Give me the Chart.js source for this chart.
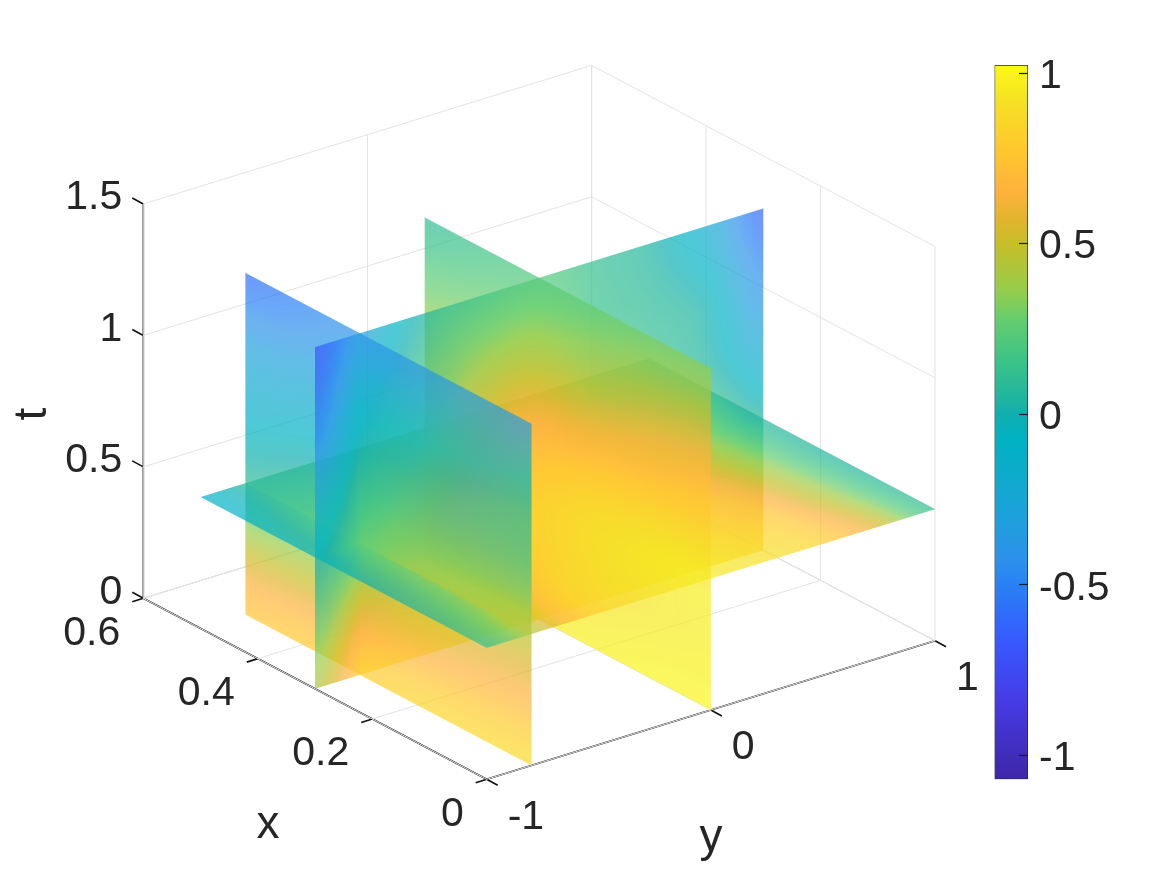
<!DOCTYPE html>
<html>
<head>
<title>Slices of u(x, y, t)</title>
<script src="https://cdn.jsdelivr.net/npm/chart.js"></script>
<style>
    body { margin: 0; background: #fff; }
    #wrap { position: relative; width: 1167px; height: 875px; overflow: hidden; }
    #mainChart { position: absolute; left: 0; top: 0; }
    #barChart { position: absolute; left: 994px; top: 0; }
</style>
</head>
<body>
<div id="wrap">
    <canvas id="mainChart" width="1167" height="875"></canvas>
    <canvas id="barChart" width="173" height="875"></canvas>
</div>
<script>
// axis ticks
const xTicks = [0, 0.2, 0.4, 0.6];
const yTicks = [-1, 0, 1];
const tTicks = [0, 0.5, 1, 1.5];
const barTicks = [-1, -0.5, 0, 0.5, 1];
const barMin = -1.071;
const barMax = 1.022;

// grid levels the slice values were read at
const xLevels = [0, 0.1, 0.2, 0.3, 0.4, 0.5];
const yLevels = [-1, -0.75, -0.5, -0.25, 0, 0.25, 0.5, 0.75, 1];
const tLevels = [0, 0.25, 0.5, 0.75, 1, 1.3];

// slice y = -0.8, rows t, columns x
const sliceYm08 = [
    [0.88, 0.86, 0.85, 0.80, 0.78, 0.75],
    [0.66, 0.64, 0.60, 0.55, 0.50, 0.48],
    [0.45, 0.42, 0.38, 0.27, 0.18, 0.10],
    [0.15, 0.14, 0.12, 0.06, -0.04, -0.10],
    [0.00, -0.04, -0.08, -0.11, -0.25, -0.30],
    [-0.35, -0.36, -0.38, -0.40, -0.50, -0.58]
];
// slice y = 0, rows t, columns x
const sliceY0 = [
    [1.00, 1.00, 0.98, 0.97, 0.93, 0.90],
    [0.97, 0.95, 0.92, 0.88, 0.82, 0.78],
    [0.95, 0.93, 0.88, 0.80, 0.70, 0.62],
    [0.78, 0.76, 0.72, 0.65, 0.58, 0.50],
    [0.62, 0.58, 0.50, 0.42, 0.36, 0.30],
    [0.35, 0.32, 0.28, 0.22, 0.16, 0.10]
];
// slice x = 0.3, rows t, columns y
const sliceX03 = [
    [0.42, 0.85, 0.92, 0.95, 0.97, 0.95, 0.92, 0.88, 0.80],
    [0.20, 0.60, 0.75, 0.85, 0.88, 0.84, 0.72, 0.62, 0.45],
    [-0.05, 0.30, 0.55, 0.72, 0.80, 0.72, 0.52, 0.32, 0.06],
    [-0.30, 0.15, 0.35, 0.55, 0.65, 0.35, 0.20, 0.06, -0.22],
    [-0.55, 0.00, 0.20, 0.38, 0.42, 0.18, 0.10, -0.02, -0.42],
    [-0.70, -0.25, 0.05, 0.17, 0.22, 0.12, 0.03, -0.20, -0.62]
];
// slice t = 0.5, rows x, columns y
const sliceT05 = [
    [0.12, 0.50, 0.80, 0.91, 0.95, 0.91, 0.82, 0.55, 0.10],
    [0.05, 0.42, 0.74, 0.88, 0.93, 0.87, 0.76, 0.45, 0.07],
    [0.00, 0.35, 0.64, 0.81, 0.88, 0.81, 0.66, 0.38, 0.05],
    [-0.05, 0.30, 0.55, 0.72, 0.80, 0.72, 0.52, 0.32, 0.06],
    [-0.08, 0.18, 0.38, 0.55, 0.70, 0.60, 0.42, 0.22, 0.05],
    [-0.12, 0.10, 0.25, 0.42, 0.62, 0.42, 0.30, 0.18, 0.08]
];

// colormap, position in 0..1 and rgb
const mapStops = [0, 0.111, 0.195, 0.273, 0.307, 0.363, 0.419, 0.475, 0.511, 0.531, 0.587, 0.643, 0.685, 0.751, 0.783, 0.825, 0.881, 0.951, 1];
const mapColors = [
    [62, 38, 168], [70, 60, 230], [55, 90, 255], [40, 130, 245], [45, 145, 235],
    [30, 160, 220], [15, 170, 205], [0, 178, 195], [15, 175, 175], [30, 180, 160],
    [60, 195, 135], [100, 205, 110], [150, 205, 75], [200, 190, 40], [225, 180, 45],
    [255, 178, 60], [255, 200, 45], [245, 225, 35], [250, 250, 20]
];

const faceAlpha = 0.7;

// orthographic view of the box, read from its corners
const origin = [486.7, 779.3];
const xAxisVec = [-343.4, -181.0];
const yAxisVec = [448.3, -138.6];
const tAxisVec = [0, -394.3];

function project(x, y, t) {
    const a = x / 0.6, b = (y + 1) / 2, c = t / 1.5;
    return {
        x: origin[0] + a * xAxisVec[0] + b * yAxisVec[0] + c * tAxisVec[0],
        y: origin[1] + a * xAxisVec[1] + b * yAxisVec[1] + c * tAxisVec[1]
    };
}

// larger is nearer the camera
function nearness(x, y, t) {
    return -x - 2.553 * y + 1.82 * t;
}

function segment(list, from, to) {
    list.push(project(from[0], from[1], from[2]), project(to[0], to[1], to[2]), { x: null, y: null });
}

const gridLines = [];
xTicks.forEach(x => {
    segment(gridLines, [x, -1, 0], [x, 1, 0]);
    segment(gridLines, [x, 1, 0], [x, 1, 1.5]);
});
yTicks.forEach(y => {
    segment(gridLines, [0, y, 0], [0.6, y, 0]);
    segment(gridLines, [0.6, y, 0], [0.6, y, 1.5]);
});
tTicks.forEach(t => {
    segment(gridLines, [0.6, -1, t], [0.6, 1, t]);
    segment(gridLines, [0.6, 1, t], [0, 1, t]);
});

const edgeLines = [];
segment(edgeLines, [0.6, -1, 0], [0.6, 1, 0]);
segment(edgeLines, [0.6, 1, 0], [0, 1, 0]);
segment(edgeLines, [0.6, 1, 0], [0.6, 1, 1.5]);

const axisLines = [];
segment(axisLines, [0.6, -1, 0], [0, -1, 0]);
segment(axisLines, [0, -1, 0], [0, 1, 0]);
segment(axisLines, [0.6, -1, 0], [0.6, -1, 1.5]);
function tickSeg(p, dx, dy) {
    axisLines.push(p, { x: p.x + dx, y: p.y + dy }, { x: null, y: null });
}
xTicks.forEach(x => tickSeg(project(x, -1, 0), -11, 3.5));
yTicks.forEach(y => tickSeg(project(0, y, 0), 11, 6));
tTicks.forEach(t => tickSeg(project(0.6, -1, t), -11, -6));

function lineSet(data, color, width) {
    return { type: 'scatter', data: data, showLine: true, borderColor: color, borderWidth: width, pointRadius: 0 };
}

function sliceSet(name, us, vs, values, place) {
    const data = [];
    vs.forEach((v, j) => us.forEach((u, i) => {
        const p = place(u, v);
        const pt = project(p[0], p[1], p[2]);
        pt.v = values[j][i];
        pt.depth = nearness(p[0], p[1], p[2]);
        data.push(pt);
    }));
    return { type: 'scatter', label: name, data: data, pointRadius: 0, showLine: false, slice: { us, vs, values } };
}

const datasets = [
    lineSet(gridLines, '#e3e3e3', 1),
    lineSet(edgeLines, '#c6c6c6', 1),
    lineSet(axisLines, '#111111', 1.6),
    sliceSet('y = -0.8', xLevels, tLevels, sliceYm08, (x, t) => [x, -0.8, t]),
    sliceSet('y = 0', xLevels, tLevels, sliceY0, (x, t) => [x, 0, t]),
    sliceSet('x = 0.3', yLevels, tLevels, sliceX03, (y, t) => [0.3, y, t]),
    sliceSet('t = 0.5', yLevels, xLevels, sliceT05, (y, x) => [x, y, 0.5])
];

function mapColor(v) {
    let s = (v - barMin) / (barMax - barMin);
    s = Math.min(1, Math.max(0, s));
    let k = 0;
    while (k < mapStops.length - 2 && s > mapStops[k + 1]) k++;
    const f = (s - mapStops[k]) / (mapStops[k + 1] - mapStops[k]);
    const a = mapColors[k], b = mapColors[k + 1];
    return [a[0] + (b[0] - a[0]) * f, a[1] + (b[1] - a[1]) * f, a[2] + (b[2] - a[2]) * f];
}

function levelIndex(levels, val) {
    let k = 0;
    while (k < levels.length - 2 && val > levels[k + 1]) k++;
    return k + (val - levels[k]) / (levels[k + 1] - levels[k]);
}

function cubic(a, b, c, d, f) {
    return b + 0.5 * f * (c - a + f * (2 * a - 5 * b + 4 * c - d + f * (3 * (b - c) + d - a)));
}

function sampleGrid(values, fu, fv) {
    const rows = values.length, cols = values[0].length;
    const i = Math.min(cols - 2, Math.floor(fu)), j = Math.min(rows - 2, Math.floor(fv));
    const du = fu - i, dv = fv - j;
    const col = [];
    for (let m = -1; m <= 2; m++) {
        const r = values[Math.max(0, Math.min(rows - 1, j + m))];
        col.push(cubic(r[Math.max(0, i - 1)], r[i], r[i + 1], r[Math.min(cols - 1, i + 2)], du));
    }
    return cubic(col[0], col[1], col[2], col[3], dv);
}

// paints the transparent slices, pixels sorted far to near
const slicePainter = {
    id: 'slicePainter',
    afterDatasetsDraw(chart) {
        const sx = chart.scales.x, sy = chart.scales.y;
        const W = chart.width, H = chart.height;
        const hits = new Array(W * H);
        chart.data.datasets.forEach(set => {
            if (!set.slice) return;
            const nu = set.slice.us.length, nv = set.slice.vs.length;
            const p00 = set.data[0], p10 = set.data[nu - 1], p01 = set.data[(nv - 1) * nu];
            const ox = sx.getPixelForValue(p00.x), oy = sy.getPixelForValue(p00.y);
            const ax = sx.getPixelForValue(p10.x) - ox, ay = sy.getPixelForValue(p10.y) - oy;
            const bx = sx.getPixelForValue(p01.x) - ox, by = sy.getPixelForValue(p01.y) - oy;
            const det = ax * by - ay * bx;
            const lenA = Math.abs(det) / Math.hypot(bx, by), lenB = Math.abs(det) / Math.hypot(ax, ay);
            const xs = [ox, ox + ax, ox + bx, ox + ax + bx], ys = [oy, oy + ay, oy + by, oy + ay + by];
            const x0 = Math.max(0, Math.floor(Math.min(...xs)) - 1), x1 = Math.min(W - 1, Math.ceil(Math.max(...xs)) + 1);
            const y0 = Math.max(0, Math.floor(Math.min(...ys)) - 1), y1 = Math.min(H - 1, Math.ceil(Math.max(...ys)) + 1);
            const us = set.slice.us, vs = set.slice.vs;
            for (let py = y0; py <= y1; py++) {
                for (let px = x0; px <= x1; px++) {
                    const rx = px + 0.5 - ox, ry = py + 0.5 - oy;
                    const s = (rx * by - ry * bx) / det, r = (ax * ry - ay * rx) / det;
                    const edge = Math.min(s * lenA, (1 - s) * lenA, r * lenB, (1 - r) * lenB) + 0.5;
                    if (edge <= 0) continue;
                    const ss = Math.min(1, Math.max(0, s)), rr = Math.min(1, Math.max(0, r));
                    const fu = levelIndex(us, us[0] + (us[nu - 1] - us[0]) * ss);
                    const fv = levelIndex(vs, vs[0] + (vs[nv - 1] - vs[0]) * rr);
                    const val = sampleGrid(set.slice.values, fu, fv);
                    const depth = p00.depth + (p10.depth - p00.depth) * s + (p01.depth - p00.depth) * r;
                    const idx = py * W + px;
                    (hits[idx] = hits[idx] || []).push({ depth, val, cover: Math.min(1, edge) });
                }
            }
        });
        const off = document.createElement('canvas');
        off.width = W; off.height = H;
        const octx = off.getContext('2d');
        const img = octx.createImageData(W, H);
        for (let idx = 0; idx < hits.length; idx++) {
            const list = hits[idx];
            if (!list) continue;
            list.sort((a, b) => a.depth - b.depth);
            let r = 0, g = 0, b = 0, al = 0;
            list.forEach(h => {
                const c = mapColor(h.val), a = faceAlpha * h.cover;
                r = c[0] * a + r * (1 - a);
                g = c[1] * a + g * (1 - a);
                b = c[2] * a + b * (1 - a);
                al = a + al * (1 - a);
            });
            img.data[idx * 4] = r / al;
            img.data[idx * 4 + 1] = g / al;
            img.data[idx * 4 + 2] = b / al;
            img.data[idx * 4 + 3] = al * 255;
        }
        octx.putImageData(img, 0, 0);
        chart.ctx.drawImage(off, 0, 0);
    }
};

// tick and axis labels of the box
const boxLabels = {
    id: 'boxLabels',
    afterDraw(chart) {
        const ctx = chart.ctx;
        ctx.save();
        ctx.fillStyle = '#262626';
        ctx.font = '41px "Liberation Sans", Arial, sans-serif';
        ctx.textBaseline = 'middle';
        ctx.textAlign = 'right';
        tTicks.forEach(t => {
            const p = project(0.6, -1, t);
            ctx.fillText(String(t), p.x - 21, p.y - 6);
        });
        xTicks.forEach(x => {
            const p = project(x, -1, 0);
            ctx.fillText(String(x), p.x - 23, p.y + 35);
        });
        ctx.textAlign = 'left';
        yTicks.forEach(y => {
            const p = project(0, y, 0);
            ctx.fillText(String(y), p.x + 21, p.y + 38);
        });
        ctx.textAlign = 'center';
        ctx.font = '46px "Liberation Sans", Arial, sans-serif';
        ctx.fillText('x', 268, 825);
        ctx.fillText('y', 711, 838);
        ctx.translate(33, 414);
        ctx.rotate(-Math.PI / 2);
        ctx.fillText('t', 0, 0);
        ctx.restore();
    }
};

new Chart(document.getElementById('mainChart'), {
    type: 'scatter',
    data: { datasets: datasets },
    options: {
        responsive: false,
        animation: false,
        events: [],
        layout: { padding: 0 },
        plugins: { legend: { display: false }, tooltip: { enabled: false } },
        scales: {
            x: { type: 'linear', min: 0, max: 1167, display: false },
            y: { type: 'linear', min: 0, max: 875, reverse: true, display: false }
        }
    },
    plugins: [slicePainter, boxLabels]
});

// colorbar tick marks, inside the bar
const barMarks = {
    id: 'barMarks',
    afterDraw(chart) {
        const ctx = chart.ctx, area = chart.chartArea, sy = chart.scales.y;
        ctx.save();
        ctx.strokeStyle = '#1c1c1c';
        ctx.lineWidth = 1.2;
        barTicks.forEach(v => {
            const py = Math.round(sy.getPixelForValue(v)) + 0.5;
            ctx.beginPath();
            ctx.moveTo(area.right - 9, py);
            ctx.lineTo(area.right, py);
            ctx.stroke();
        });
        ctx.restore();
    }
};

function barGradient(context) {
    const chart = context.chart, area = chart.chartArea;
    if (!area) return '#888';
    const g = chart.ctx.createLinearGradient(0, area.bottom, 0, area.top);
    mapStops.forEach((s, i) => g.addColorStop(s, 'rgb(' + mapColors[i].join(',') + ')'));
    return g;
}

new Chart(document.getElementById('barChart'), {
    type: 'bar',
    data: {
        labels: ['u'],
        datasets: [{
            data: [[barMin, barMax]],
            backgroundColor: barGradient,
            borderColor: '#262626',
            borderWidth: 1,
            borderSkipped: false,
            barPercentage: 1,
            categoryPercentage: 1
        }]
    },
    options: {
        responsive: false,
        animation: false,
        events: [],
        layout: { padding: { left: 0.5, top: 65, bottom: 95.7, right: 0 } },
        plugins: { legend: { display: false }, tooltip: { enabled: false } },
        scales: {
            x: { display: false },
            y: {
                position: 'right',
                min: barMin,
                max: barMax,
                afterBuildTicks: s => { s.ticks = barTicks.map(v => ({ value: v })); },
                afterFit: s => { s.width = 139; s.paddingTop = 0; s.paddingBottom = 0; },
                border: { display: false },
                grid: { display: false },
                ticks: {
                    color: '#262626',
                    padding: 3,
                    labelOffset: 4,
                    font: { family: '"Liberation Sans", Arial, sans-serif', size: 41 },
                    callback: v => String(v)
                }
            }
        }
    },
    plugins: [barMarks]
});
</script>
</body>
</html>
